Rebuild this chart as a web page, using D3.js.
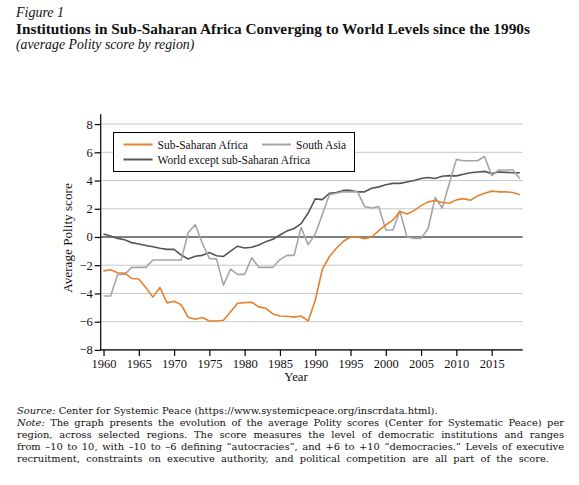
<!DOCTYPE html>
<html><head><meta charset="utf-8">
<script src="https://cdn.jsdelivr.net/npm/d3@7"></script>
<style>
body{margin:0;background:#fff}
svg{display:block}
text{font-family:"Liberation Serif","Times New Roman",serif;fill:#111}
</style>
</head><body>
<svg id="c" width="579" height="485"></svg>
<script>
const years = [1960,1961,1962,1963,1964,1965,1966,1967,1968,1969,1970,1971,1972,1973,1974,1975,1976,1977,1978,1979,
  1980,1981,1982,1983,1984,1985,1986,1987,1988,1989,1990,1991,1992,1993,1994,1995,1996,1997,1998,1999,
  2000,2001,2002,2003,2004,2005,2006,2007,2008,2009,2010,2011,2012,2013,2014,2015,2016,2017,2018,2019];
const subSaharanAfrica = [-2.4,-2.32,-2.53,-2.55,-2.94,-2.98,-3.6,-4.26,-3.58,-4.67,-4.55,-4.8,-5.69,-5.83,-5.71,-5.95,-5.95,-5.9,-5.3,-4.7,
  -4.65,-4.62,-4.95,-5.05,-5.45,-5.6,-5.62,-5.68,-5.6,-5.95,-4.5,-2.3,-1.4,-0.8,-0.3,0.0,0.0,-0.12,0.0,0.45,
  0.85,1.2,1.8,1.63,1.87,2.22,2.49,2.58,2.44,2.39,2.63,2.72,2.6,2.91,3.1,3.25,3.2,3.2,3.15,3.0];
const southAsia = [-4.18,-4.18,-2.65,-2.65,-2.15,-2.15,-2.15,-1.63,-1.63,-1.63,-1.63,-1.63,0.3,0.88,-0.45,-1.52,-1.55,-3.41,-2.27,-2.65,
  -2.65,-1.47,-2.15,-2.15,-2.15,-1.6,-1.3,-1.3,0.66,-0.54,0.2,1.6,3.0,3.1,3.2,3.2,3.2,2.15,2.05,2.15,
  0.5,0.5,1.85,0.0,-0.1,-0.1,0.6,2.8,2.05,3.8,5.5,5.4,5.4,5.4,5.7,4.35,4.75,4.75,4.75,4.15];
const worldExSSA = [0.21,0.07,-0.1,-0.2,-0.4,-0.5,-0.6,-0.69,-0.8,-0.88,-0.88,-1.28,-1.56,-1.37,-1.3,-1.1,-1.33,-1.38,-1.0,-0.65,
  -0.78,-0.73,-0.57,-0.33,-0.16,0.14,0.43,0.6,0.95,1.7,2.7,2.65,3.1,3.15,3.3,3.3,3.2,3.2,3.45,3.55,
  3.7,3.8,3.8,3.9,4.0,4.15,4.22,4.15,4.3,4.35,4.33,4.45,4.55,4.6,4.65,4.5,4.6,4.58,4.55,4.55];
const xTickValues = [1960,1965,1970,1975,1980,1985,1990,1995,2000,2005,2010,2015];
const yTickValues = [-8,-6,-4,-2,0,2,4,6,8];
const seriesNames = ["Sub-Saharan Africa","South Asia","World except sub-Saharan Africa"];
const seriesColors = ["#e5812f","#a5a5a5","#555555"];
const figureLabel = "Figure 1";
const titleText = "Institutions in Sub-Saharan Africa Converging to World Levels since the 1990s";
const subtitleText = "(average Polity score by region)";
const yLabel = "Average Polity score";
const xLabel = "Year";
const noteLines = [
  [{t:"Source:",i:true},{t:" Center for Systemic Peace (https://www.systemicpeace.org/inscrdata.html)."}],
  [{t:"Note:",i:true},{t:" The graph presents the evolution of the average Polity scores (Center for Systematic Peace) per"}],
  [{t:"region, across selected regions. The score measures the level of democratic institutions and ranges"}],
  [{t:"from –10 to 10, with –10 to –6 defining “autocracies”, and +6 to +10 “democracies.” Levels of executive"}],
  [{t:"recruitment, constraints on executive authority, and political competition are all part of the score."}]
];
const lineRight = [null, 564, 564, 564, 549];

(function(){
const svg = d3.select("#c");
const pL = 100.7, pR = 522.7, pT = 114.2, pB = 349.9;
const x = d3.scaleLinear().domain([1959.6, 2019.4]).range([pL, pR]);
const y = d3.scaleLinear().domain([-8, 8.7]).range([pB, pT]);

// header
svg.append("text").attr("x",16).attr("y",17).style("font-style","italic").style("font-size","14px").text(figureLabel);
svg.append("text").attr("x",16).attr("y",34).style("font-weight","bold").style("font-size","15.3px").text(titleText);
svg.append("text").attr("x",16).attr("y",48.5).style("font-style","italic").style("font-size","13.8px").text(subtitleText);

// grid
svg.append("g").selectAll("line").data(yTickValues.filter(d=>d!==0)).join("line")
  .attr("x1",pL).attr("x2",pR).attr("y1",d=>y(d)).attr("y2",d=>y(d))
  .attr("stroke","#c8c8c8").attr("stroke-width",1);

// axes
const yAxis = svg.append("g").attr("transform",`translate(${pL},0)`)
  .call(d3.axisLeft(y).tickValues(yTickValues).tickSize(6).tickPadding(2).tickFormat(d=>d<0?"−"+Math.abs(d):d));
const xAxis = svg.append("g").attr("transform",`translate(0,${pB})`)
  .call(d3.axisBottom(x).tickValues(xTickValues).tickSize(6).tickPadding(3).tickFormat(d3.format("d")));
[yAxis,xAxis].forEach(a=>{
  a.select(".domain").attr("stroke","#000").attr("stroke-width",1.2);
  a.selectAll(".tick line").attr("stroke","#000").attr("stroke-width",1.2);
  a.selectAll("text").style("font-family","'Liberation Serif',serif").style("font-size","12.5px").attr("fill","#111");
});
xAxis.select(".domain").attr("d",`M${pL},0H${pR}`);
yAxis.select(".domain").attr("d",`M0,${pT}V${pB}`);

// zero line
svg.append("line").attr("x1",pL).attr("x2",pR).attr("y1",y(0)).attr("y2",y(0)).attr("stroke","#000").attr("stroke-width",1.2);

// series
const series = [subSaharanAfrica, southAsia, worldExSSA];
const line = d3.line().x((d,i)=>x(years[i])).y(d=>y(d));
[2,1,0].forEach(k=>{
  svg.append("path").datum(series[k]).attr("d",line).attr("fill","none")
    .attr("stroke",seriesColors[k]).attr("stroke-width",1.6).attr("stroke-linejoin","round");
});

// axis labels
svg.append("text").attr("transform",`translate(72,238) rotate(-90)`).attr("text-anchor","middle")
  .style("font-size","13.2px").text(yLabel);
svg.append("text").attr("x",296).attr("y",381).attr("text-anchor","middle").style("font-size","12.8px").text(xLabel);

// legend
const lg = svg.append("g");
lg.append("rect").attr("x",113.5).attr("y",132.5).attr("width",241).attr("height",39)
  .attr("fill","#fff").attr("stroke","#000").attr("stroke-width",1);
const legPos = [[123.5,144.5],[262,144.5],[123.5,159.5]];
seriesNames.forEach((n,k)=>{
  const [lx,ly] = legPos[k];
  lg.append("line").attr("x1",lx).attr("x2",lx+29).attr("y1",ly).attr("y2",ly).attr("stroke",seriesColors[k]).attr("stroke-width",2);
  lg.append("text").attr("x",lx+34).attr("y",ly+4).style("font-size","11.5px").text(n);
});

// notes
const noteX = 17, noteY0 = 413.5, noteDY = 12;
noteLines.forEach((segs,li)=>{
  const ty = noteY0 + li*noteDY;
  const t = svg.append("text").attr("y",ty)
    .style("font-family","'DejaVu Serif',serif").style("font-size","9.9px");
  if(!lineRight[li]){
    segs.forEach((s,si)=>{
      const sp = t.append("tspan").text(s.t);
      if(si===0) sp.attr("x",noteX);
      if(s.i) sp.style("font-style","italic");
    });
    return;
  }
  const words = [];
  segs.forEach(s=>{
    s.t.split(/\s+/).forEach(w=>{ if(w.length) words.push({w, i:!!s.i}); });
  });
  const spans = words.map(o=>{
    const sp = t.append("tspan").text(o.w);
    if(o.i) sp.style("font-style","italic");
    return sp;
  });
  const widths = spans.map(sp=>sp.node().getComputedTextLength());
  const total = d3.sum(widths);
  const gap = Math.max(1.5, (lineRight[li] - noteX - total)/(words.length-1));
  let cx = noteX;
  spans.forEach((sp,k)=>{ sp.attr("x",cx); cx += widths[k] + gap; });
});
})();
</script>
</body></html>
